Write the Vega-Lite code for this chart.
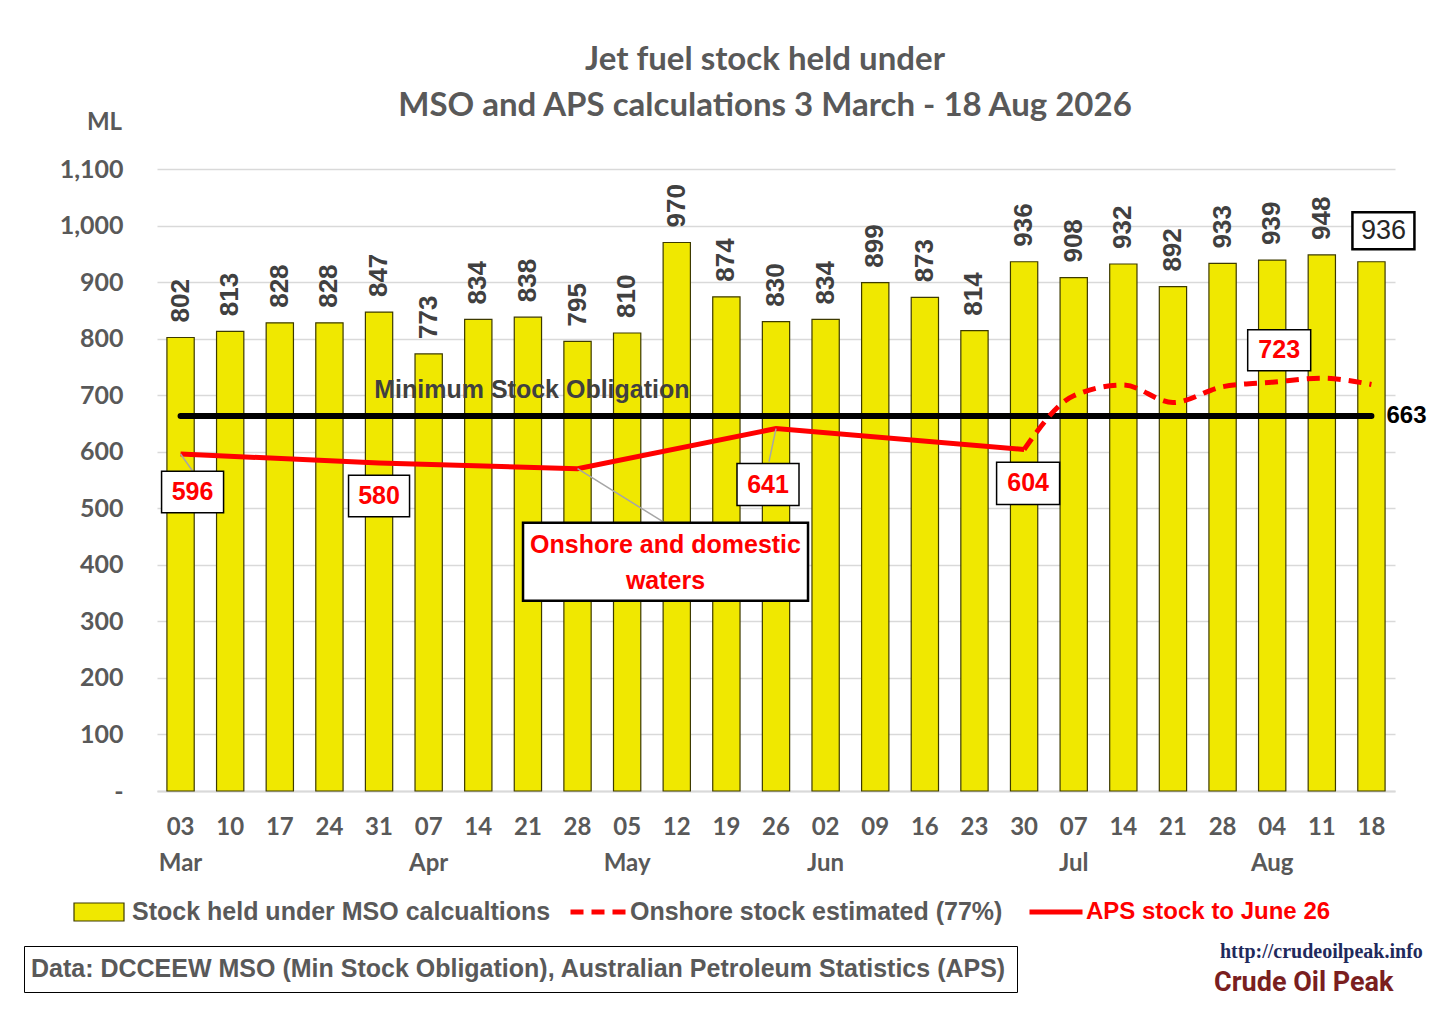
{
  "$schema": "https://vega.github.io/schema/vega-lite/v6.json",
  "width": 1238,
  "height": 622,
  "autosize": {"type": "none"},
  "padding": {"left": 157, "top": 169, "right": 61, "bottom": 242},
  "background": "white",
  "title": {
    "text": ["Jet fuel stock held under", "MSO and APS calculations 3 March - 18 Aug 2026"],
    "anchor": "middle",
    "frame": "group",
    "dx": -11,
    "offset": -13,
    "font": "Lato",
    "fontSize": 33,
    "fontWeight": "bold",
    "color": "#595959",
    "lineHeight": 46
  },
  "datasets": {
    "weeks": [
      {"date": "2026-03-03", "stock": 802, "mso": 663, "aps": 596},
      {"date": "2026-03-10", "stock": 813, "mso": 663},
      {"date": "2026-03-17", "stock": 828, "mso": 663},
      {"date": "2026-03-24", "stock": 828, "mso": 663},
      {"date": "2026-03-31", "stock": 847, "mso": 663, "aps": 580},
      {"date": "2026-04-07", "stock": 773, "mso": 663},
      {"date": "2026-04-14", "stock": 834, "mso": 663},
      {"date": "2026-04-21", "stock": 838, "mso": 663},
      {"date": "2026-04-28", "stock": 795, "mso": 663, "aps": 570},
      {"date": "2026-05-05", "stock": 810, "mso": 663},
      {"date": "2026-05-12", "stock": 970, "mso": 663},
      {"date": "2026-05-19", "stock": 874, "mso": 663},
      {"date": "2026-05-26", "stock": 830, "mso": 663, "aps": 641},
      {"date": "2026-06-02", "stock": 834, "mso": 663},
      {"date": "2026-06-09", "stock": 899, "mso": 663},
      {"date": "2026-06-16", "stock": 873, "mso": 663},
      {"date": "2026-06-23", "stock": 814, "mso": 663},
      {"date": "2026-06-30", "stock": 936, "mso": 663, "aps": 604, "onshore": 604},
      {"date": "2026-07-07", "stock": 908, "mso": 663, "onshore": 699},
      {"date": "2026-07-14", "stock": 932, "mso": 663, "onshore": 718},
      {"date": "2026-07-21", "stock": 892, "mso": 663, "onshore": 687},
      {"date": "2026-07-28", "stock": 933, "mso": 663, "onshore": 715},
      {"date": "2026-08-04", "stock": 939, "mso": 663, "onshore": 723},
      {"date": "2026-08-11", "stock": 948, "mso": 663, "onshore": 730},
      {"date": "2026-08-18", "stock": 936, "mso": 663, "onshore": 719}
    ]
  },
  "data": {"name": "weeks"},
  "encoding": {
    "x": {
      "field": "date",
      "type": "ordinal",
      "scale": {"paddingInner": 0.45, "paddingOuter": 0.2},
      "axis": {
        "title": null,
        "labelAngle": 0,
        "ticks": false,
        "grid": false,
        "domainColor": "#d9d9d9",
        "domainWidth": 2,
        "labelPadding": 24,
        "labelLineHeight": 36,
        "labelFont": "Lato",
        "labelFontSize": 24,
        "labelFontWeight": "bold",
        "labelColor": "#595959",
        "labelExpr": "[slice(datum.value, 8, 10), toNumber(slice(datum.value, 8, 10)) <= 7 ? utcFormat(toDate(datum.value), '%b') : '']"
      }
    }
  },
  "resolve": {"scale": {"shape": "independent"}, "legend": {"shape": "independent"}},
  "layer": [
    {
      "mark": {"type": "bar", "stroke": "#3d3a00", "strokeWidth": 1.2},
      "encoding": {
        "y": {
          "field": "stock",
          "type": "quantitative",
          "scale": {"domain": [0, 1100], "nice": false},
          "axis": {
            "values": [0, 100, 200, 300, 400, 500, 600, 700, 800, 900, 1000, 1100],
            "labelExpr": "datum.value == 0 ? '-' : format(datum.value, ',')",
            "domain": false,
            "ticks": false,
            "grid": true,
            "gridColor": "#d9d9d9",
            "gridWidth": 1.5,
            "labelPadding": 34,
            "labelFont": "Lato",
            "labelFontSize": 25,
            "labelFontWeight": "bold",
            "labelColor": "#595959",
            "title": "ML",
            "titleAngle": 0,
            "titleX": -53,
            "titleY": -47,
            "titleAlign": "center",
            "titleBaseline": "middle",
            "titleFont": "Lato",
            "titleFontSize": 24,
            "titleFontWeight": "bold",
            "titleColor": "#595959"
          }
        },
        "fill": {
          "datum": "Stock held under MSO calcualtions",
          "scale": {"range": ["#f0e800"]},
          "legend": {
            "title": null,
            "orient": "none",
            "legendX": -84,
            "legendY": 717,
            "padding": 0,
            "symbolType": "M-1,-0.36H1V0.36H-1Z",
            "symbolSize": 2500,
            "symbolStrokeColor": "#3d3a00",
            "symbolStrokeWidth": 1.2,
            "labelOffset": 7,
            "labelFont": "Liberation Sans",
            "labelFontSize": 25,
            "labelFontWeight": "bold",
            "labelColor": "#595959",
            "labelLimit": 0
          }
        }
      }
    },
    {
      "mark": {"type": "line", "color": "black", "strokeWidth": 6, "strokeCap": "round"},
      "encoding": {"y": {"field": "mso", "type": "quantitative"}}
    },
    {
      "transform": [{"filter": "isValid(datum.aps)"}],
      "mark": {"type": "line", "strokeWidth": 5},
      "encoding": {
        "y": {"field": "aps", "type": "quantitative"},
        "stroke": {
          "datum": "APS stock to June 26",
          "scale": {"range": ["#ff0000"]},
          "legend": {
            "title": null,
            "orient": "none",
            "legendX": 870,
            "legendY": 714,
            "padding": 0,
            "symbolType": "stroke",
            "symbolSize": 2809,
            "symbolStrokeWidth": 5,
            "labelOffset": 1,
            "labelFont": "Liberation Sans",
            "labelFontSize": 24,
            "labelFontWeight": "bold",
            "labelColor": "#ff0000",
            "labelLimit": 0
          }
        }
      }
    },
    {
      "transform": [{"filter": "isValid(datum.onshore)"}],
      "mark": {"type": "line", "color": "#ff0000", "strokeWidth": 5, "interpolate": "monotone"},
      "encoding": {
        "y": {"field": "onshore", "type": "quantitative"},
        "strokeDash": {
          "datum": "Onshore stock estimated (77%)",
          "scale": {"range": [[13, 8]]},
          "legend": {
            "title": null,
            "orient": "none",
            "legendX": 411,
            "legendY": 713,
            "padding": 0,
            "symbolType": "stroke",
            "symbolSize": 3025,
            "symbolStrokeWidth": 5,
            "symbolStrokeColor": "#ff0000",
            "labelOffset": 2,
            "labelFont": "Liberation Sans",
            "labelFontSize": 25,
            "labelFontWeight": "bold",
            "labelColor": "#595959",
            "labelLimit": 0
          }
        }
      }
    },
    {
      "transform": [{"filter": "datum.date != '2026-08-18'"}],
      "mark": {
        "type": "text",
        "angle": 270,
        "align": "left",
        "baseline": "middle",
        "dx": 15,
        "font": "Liberation Sans",
        "fontSize": 26,
        "fontWeight": "bold",
        "color": "#404040"
      },
      "encoding": {
        "y": {"field": "stock", "type": "quantitative"},
        "text": {"field": "stock", "type": "quantitative"}
      }
    },
    {
      "transform": [{"filter": "datum.date == '2026-08-18'"}],
      "mark": {
        "type": "text",
        "align": "left",
        "baseline": "middle",
        "dx": 15,
        "font": "Liberation Sans",
        "fontSize": 24,
        "fontWeight": "bold",
        "color": "black"
      },
      "encoding": {
        "y": {"field": "mso", "type": "quantitative"},
        "text": {"field": "mso", "type": "quantitative"}
      }
    },
    {
      "transform": [{"filter": "datum.date == '2026-04-21'"}],
      "mark": {
        "type": "text",
        "align": "center",
        "baseline": "middle",
        "dx": 4,
        "dy": -26,
        "font": "Liberation Sans",
        "fontSize": 25,
        "fontWeight": "bold",
        "color": "#404040"
      },
      "encoding": {
        "y": {"field": "mso", "type": "quantitative"},
        "text": {"value": "Minimum Stock Obligation"}
      }
    },
    {
      "transform": [{"filter": "datum.date == '2026-03-03'"}],
      "encoding": {"y": {"field": "aps", "type": "quantitative"}},
      "layer": [
        {
          "mark": {"type": "rule", "color": "#a6a6a6", "strokeWidth": 1.5, "x2Offset": 12, "y2Offset": 17},
          "encoding": {"x2": {"field": "date"}, "y2": {"field": "aps"}}
        },
        {
          "mark": {"type": "point", "shape": "M-1,-0.67H1V0.67H-1Z", "size": 3844, "filled": true, "fill": "white", "stroke": "black", "strokeWidth": 1.5, "opacity": 1, "xOffset": 12, "yOffset": 38}
        },
        {
          "mark": {"type": "text", "align": "center", "baseline": "middle", "dx": 12, "dy": 38, "font": "Liberation Sans", "fontSize": 25, "fontWeight": "bold", "color": "#ff0000"},
          "encoding": {"text": {"field": "aps", "type": "quantitative"}}
        }
      ]
    },
    {
      "transform": [{"filter": "datum.date == '2026-03-31'"}],
      "encoding": {"y": {"field": "aps", "type": "quantitative"}},
      "layer": [
        {
          "mark": {"type": "point", "shape": "M-1,-0.68H1V0.68H-1Z", "size": 3721, "filled": true, "fill": "white", "stroke": "black", "strokeWidth": 1.5, "opacity": 1, "xOffset": 0, "yOffset": 33}
        },
        {
          "mark": {"type": "text", "align": "center", "baseline": "middle", "dx": 0, "dy": 33, "font": "Liberation Sans", "fontSize": 25, "fontWeight": "bold", "color": "#ff0000"},
          "encoding": {"text": {"field": "aps", "type": "quantitative"}}
        }
      ]
    },
    {
      "transform": [{"filter": "datum.date == '2026-04-28'"}],
      "encoding": {"y": {"field": "aps", "type": "quantitative"}},
      "layer": [
        {
          "mark": {"type": "rule", "color": "#a6a6a6", "strokeWidth": 1.5, "x2Offset": 87, "y2Offset": 54},
          "encoding": {"x2": {"field": "date"}, "y2": {"field": "aps"}}
        },
        {
          "mark": {"type": "point", "shape": "M-1,-0.274H1V0.274H-1Z", "size": 81225, "filled": true, "fill": "white", "stroke": "black", "strokeWidth": 2.5, "opacity": 1, "xOffset": 88, "yOffset": 93}
        },
        {
          "mark": {"type": "text", "align": "center", "baseline": "middle", "lineHeight": 36, "dx": 88, "dy": 76, "font": "Liberation Sans", "fontSize": 25, "fontWeight": "bold", "color": "#ff0000"},
          "encoding": {"text": {"value": ["Onshore and domestic", "waters"]}}
        }
      ]
    },
    {
      "transform": [{"filter": "datum.date == '2026-05-26'"}],
      "encoding": {"y": {"field": "aps", "type": "quantitative"}},
      "layer": [
        {
          "mark": {"type": "rule", "color": "#a6a6a6", "strokeWidth": 1.5, "x2Offset": -7, "y2Offset": 33},
          "encoding": {"x2": {"field": "date"}, "y2": {"field": "aps"}}
        },
        {
          "mark": {"type": "point", "shape": "M-1,-0.68H1V0.68H-1Z", "size": 3844, "filled": true, "fill": "white", "stroke": "black", "strokeWidth": 1.5, "opacity": 1, "xOffset": -8, "yOffset": 56}
        },
        {
          "mark": {"type": "text", "align": "center", "baseline": "middle", "dx": -8, "dy": 56, "font": "Liberation Sans", "fontSize": 25, "fontWeight": "bold", "color": "#ff0000"},
          "encoding": {"text": {"field": "aps", "type": "quantitative"}}
        }
      ]
    },
    {
      "transform": [{"filter": "datum.date == '2026-06-30'"}],
      "encoding": {"y": {"field": "aps", "type": "quantitative"}},
      "layer": [
        {
          "mark": {"type": "point", "shape": "M-1,-0.67H1V0.67H-1Z", "size": 3969, "filled": true, "fill": "white", "stroke": "black", "strokeWidth": 1.5, "opacity": 1, "xOffset": 4, "yOffset": 34}
        },
        {
          "mark": {"type": "text", "align": "center", "baseline": "middle", "dx": 4, "dy": 34, "font": "Liberation Sans", "fontSize": 25, "fontWeight": "bold", "color": "#ff0000"},
          "encoding": {"text": {"field": "aps", "type": "quantitative"}}
        }
      ]
    },
    {
      "transform": [{"filter": "datum.date == '2026-08-04'"}],
      "encoding": {"y": {"field": "onshore", "type": "quantitative"}},
      "layer": [
        {
          "mark": {"type": "point", "shape": "M-1,-0.65H1V0.65H-1Z", "size": 3969, "filled": true, "fill": "white", "stroke": "black", "strokeWidth": 1.5, "opacity": 1, "xOffset": 7, "yOffset": -32}
        },
        {
          "mark": {"type": "text", "align": "center", "baseline": "middle", "dx": 7, "dy": -32, "font": "Liberation Sans", "fontSize": 25, "fontWeight": "bold", "color": "#ff0000"},
          "encoding": {"text": {"field": "onshore", "type": "quantitative"}}
        }
      ]
    },
    {
      "transform": [{"filter": "datum.date == '2026-08-18'"}],
      "encoding": {"y": {"field": "stock", "type": "quantitative"}},
      "layer": [
        {
          "mark": {"type": "point", "shape": "M-1,-0.6H1V0.6H-1Z", "size": 3844, "filled": true, "fill": "white", "stroke": "black", "strokeWidth": 2.5, "opacity": 1, "xOffset": 12, "yOffset": -31}
        },
        {
          "mark": {"type": "text", "align": "center", "baseline": "middle", "dx": 12, "dy": -31, "font": "Liberation Sans", "fontSize": 27, "color": "#262626"},
          "encoding": {"text": {"field": "stock", "type": "quantitative"}}
        }
      ]
    },
    {
      "transform": [{"filter": "datum.date == '2026-03-03'"}],
      "mark": {"type": "point", "opacity": 0},
      "encoding": {
        "y": {"field": "stock", "type": "quantitative"},
        "shape": {
          "datum": "Data: DCCEEW MSO (Min Stock Obligation), Australian Petroleum Statistics (APS)",
          "legend": {
            "title": null,
            "orient": "none",
            "legendX": -133,
            "legendY": 777,
            "padding": 10,
            "strokeColor": "black",
            "symbolSize": 0,
            "symbolOpacity": 0,
            "labelOffset": -28,
            "labelFont": "Liberation Sans",
            "labelFontSize": 25,
            "labelFontWeight": "bold",
            "labelColor": "#595959",
            "labelLimit": 0
          }
        }
      }
    },
    {
      "transform": [{"filter": "datum.date == '2026-03-03'"}],
      "mark": {"type": "point", "opacity": 0},
      "encoding": {
        "y": {"field": "stock", "type": "quantitative"},
        "shape": {
          "datum": "http://crudeoilpeak.info",
          "legend": {
            "title": null,
            "orient": "none",
            "legendX": 1043,
            "legendY": 773,
            "padding": 0,
            "symbolSize": 0,
            "symbolOpacity": 0,
            "labelOffset": 0,
            "labelFont": "Liberation Serif",
            "labelFontSize": 20,
            "labelFontWeight": "bold",
            "labelColor": "#1f2a5c",
            "labelLimit": 0
          }
        }
      }
    },
    {
      "transform": [{"filter": "datum.date == '2026-03-03'"}],
      "mark": {"type": "point", "opacity": 0},
      "encoding": {
        "y": {"field": "stock", "type": "quantitative"},
        "shape": {
          "datum": "Crude Oil Peak",
          "legend": {
            "title": null,
            "orient": "none",
            "legendX": 1030,
            "legendY": 800,
            "padding": 0,
            "symbolSize": 0,
            "symbolOpacity": 0,
            "labelOffset": 0,
            "labelFont": "Roboto",
            "labelFontSize": 27,
            "labelFontWeight": "bold",
            "labelColor": "#7a1f1f",
            "labelLimit": 0
          }
        }
      }
    }
  ],
  "config": {
    "view": {"stroke": null}
  }
}
